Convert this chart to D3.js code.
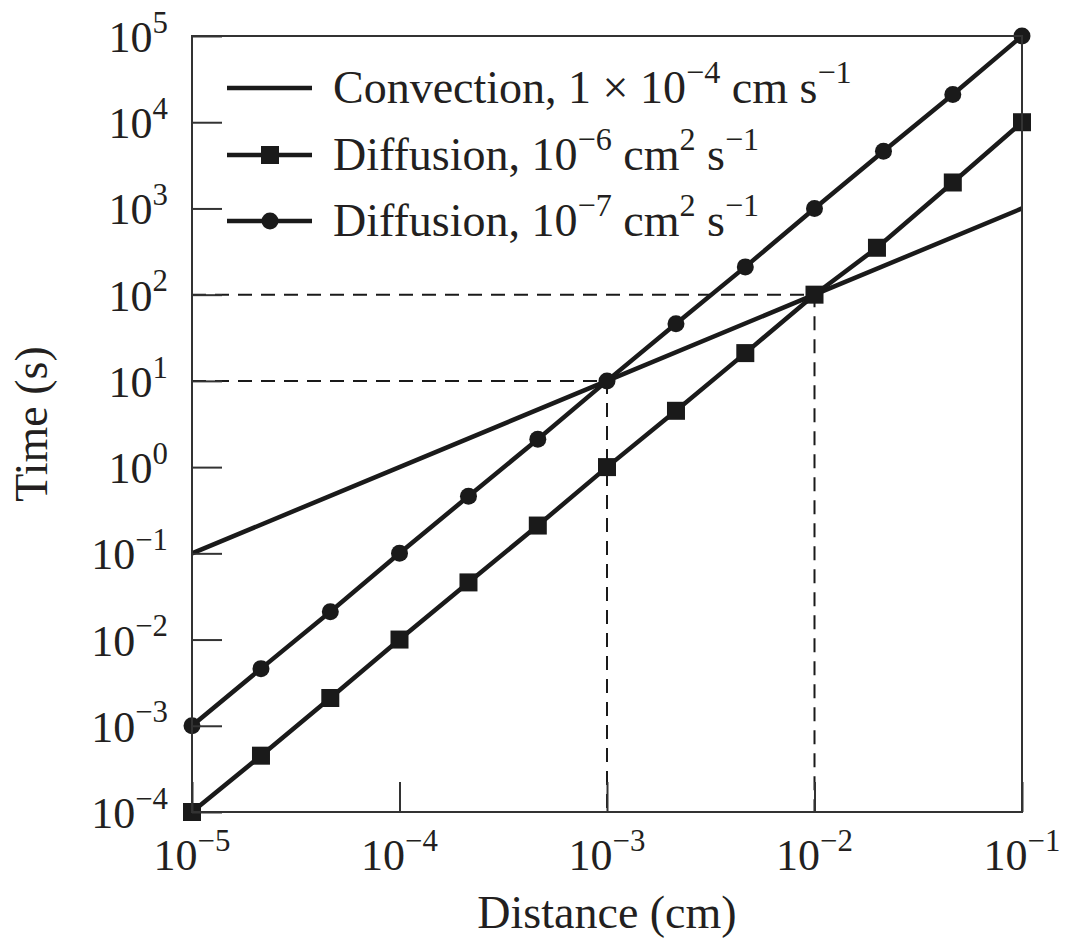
<!DOCTYPE html>
<html>
<head>
<meta charset="utf-8">
<title>Convection vs diffusion time</title>
<script src="https://d3js.org/d3.v7.min.js"></script>
<style>
  body { margin: 0; background: #fff; }
  svg text { font-family: "Liberation Serif", "Times New Roman", serif; fill: #231f20; }
</style>
</head>
<body>
<svg width="1069" height="942"></svg>
<script>

// ----- data -------------------------------------------------------------
var xTicks = [1e-5, 1e-4, 1e-3, 1e-2, 1e-1];
var xTickExp = ["\u22125", "\u22124", "\u22123", "\u22122", "\u22121"];
var yTicks = [1e-4, 1e-3, 1e-2, 1e-1, 1e0, 1e1, 1e2, 1e3, 1e4, 1e5];
var yTickExp = ["\u22124", "\u22123", "\u22122", "\u22121", "0", "1", "2", "3", "4", "5"];

// convection, 1e-4 cm/s
var convX = [1e-5, 1e-4, 1e-3, 1e-2, 1e-1];
var convT = [0.1, 1, 10, 100, 1000];

// diffusion, 1e-6 cm2/s (squares)
var sqX = [1e-5, 2.15e-5, 4.64e-5, 1e-4, 2.15e-4, 4.64e-4, 1e-3, 2.15e-3, 4.64e-3, 1e-2, 2.0e-2, 4.64e-2, 1e-1];
var sqT = [1e-4, 4.5e-4, 2.1e-3, 1e-2, 4.6e-2, 0.21, 1.0, 4.5, 21, 100, 350, 2000, 1e4];

// diffusion, 1e-7 cm2/s (circles)
var ciX = [1e-5, 2.15e-5, 4.64e-5, 1e-4, 2.15e-4, 4.64e-4, 1e-3, 2.15e-3, 4.64e-3, 1e-2, 2.15e-2, 4.64e-2, 1e-1];
var ciT = [1e-3, 4.6e-3, 2.1e-2, 0.1, 0.46, 2.1, 10, 46, 210, 1000, 4600, 21000, 1e5];

// dashed guide lines: [x, t] crossing points
var guides = [[1e-3, 10], [1e-2, 100]];

// ----- setup -------------------------------------------------------------
var svg = d3.select("svg");
var ink = "#1a1a1a";

var x = d3.scaleLog().domain([1e-5, 1e-1]).range([192, 1022]),
    y = d3.scaleLog().domain([1e-4, 1e5]).range([812, 36]);

// writes "10" plus a superscript (or any run of normal/sup parts)
function rich(sel, parts, fs) {
  var sup = fs * 0.7, rise = fs * 0.44, up = false;
  parts.forEach(function(p) {
    var t = sel.append("tspan").text(p[0]);
    if (p[1] && !up) { t.attr("font-size", sup).attr("dy", -rise); up = true; }
    else if (p[1]) { t.attr("font-size", sup); }
    else if (up) { t.attr("dy", rise); up = false; }
  });
}

// ----- dashed guides -----------------------------------------------------
guides.forEach(function(g) {
  svg.append("path")
      .attr("d", "M" + x(1e-5) + "," + y(g[1]) + "H" + x(g[0]) + "V" + y(1e-4))
      .attr("fill", "none")
      .attr("stroke", ink)
      .attr("stroke-width", 2)
      .attr("stroke-dasharray", "14,9");
});

// ----- series ------------------------------------------------------------
var line = d3.line()
    .x(function(d) { return x(d[0]); })
    .y(function(d) { return y(d[1]); });

function pairs(xs, ts) { return xs.map(function(v, i) { return [v, ts[i]]; }); }

[pairs(convX, convT), pairs(sqX, sqT), pairs(ciX, ciT)].forEach(function(pts) {
  svg.append("path")
      .attr("d", line(pts))
      .attr("fill", "none")
      .attr("stroke", ink)
      .attr("stroke-width", 4.5);
});

svg.selectAll(".sq")
    .data(pairs(sqX, sqT))
  .enter().append("rect")
    .attr("class", "sq")
    .attr("x", function(d) { return x(d[0]) - 9; })
    .attr("y", function(d) { return y(d[1]) - 9; })
    .attr("width", 18)
    .attr("height", 18)
    .attr("fill", ink);

svg.selectAll(".ci")
    .data(pairs(ciX, ciT))
  .enter().append("circle")
    .attr("class", "ci")
    .attr("cx", function(d) { return x(d[0]); })
    .attr("cy", function(d) { return y(d[1]); })
    .attr("r", 8.5)
    .attr("fill", ink);

// ----- frame + inward ticks ---------------------------------------------
svg.append("rect")
    .attr("x", 192).attr("y", 36)
    .attr("width", 1022 - 192).attr("height", 812 - 36)
    .attr("fill", "none")
    .attr("stroke", "#333")
    .attr("stroke-width", 2);

var gx = svg.append("g")
    .attr("transform", "translate(0,812)")
    .call(d3.axisBottom(x).tickValues(xTicks).tickSizeInner(-30).tickSizeOuter(0).tickFormat(""));
var gy = svg.append("g")
    .attr("transform", "translate(192,0)")
    .call(d3.axisLeft(y).tickValues(yTicks).tickSizeInner(-30).tickSizeOuter(0).tickFormat(""));
[gx, gy].forEach(function(g) {
  g.select(".domain").remove();
  g.selectAll("line").attr("stroke", "#333").attr("stroke-width", 2);
});

// ----- tick labels -------------------------------------------------------
svg.selectAll(".xl")
    .data(xTicks)
  .enter().append("text")
    .attr("class", "xl")
    .attr("x", function(d) { return x(d); })
    .attr("y", 870)
    .attr("font-size", 44)
    .attr("text-anchor", "middle")
    .each(function(d, i) { rich(d3.select(this), [["10"], [xTickExp[i], 1]], 44); });

svg.selectAll(".yl")
    .data(yTicks)
  .enter().append("text")
    .attr("class", "yl")
    .attr("x", 168)
    .attr("y", function(d) { return y(d) + 16; })
    .attr("font-size", 44)
    .attr("text-anchor", "end")
    .each(function(d, i) { rich(d3.select(this), [["10"], [yTickExp[i], 1]], 44); });

// ----- axis titles -------------------------------------------------------
svg.append("text")
    .attr("x", 607).attr("y", 928)
    .attr("font-size", 46)
    .attr("text-anchor", "middle")
    .text("Distance (cm)");

svg.append("text")
    .attr("transform", "translate(47,424) rotate(-90)")
    .attr("font-size", 46)
    .attr("text-anchor", "middle")
    .text("Time (s)");

// ----- legend ------------------------------------------------------------
var legend = [
  { y: 88, mark: "none", parts: [["Convection, 1 \u00d7 10"], ["\u22124", 1], [" cm s"], ["\u22121", 1]] },
  { y: 155, mark: "sq", parts: [["Diffusion, 10"], ["\u22126", 1], [" cm"], ["2", 1], [" s"], ["\u22121", 1]] },
  { y: 221, mark: "ci", parts: [["Diffusion, 10"], ["\u22127", 1], [" cm"], ["2", 1], [" s"], ["\u22121", 1]] }
];

legend.forEach(function(l) {
  svg.append("line")
      .attr("x1", 227).attr("x2", 312)
      .attr("y1", l.y).attr("y2", l.y)
      .attr("stroke", ink)
      .attr("stroke-width", 4.5);
  if (l.mark == "sq") {
    svg.append("rect").attr("x", 261).attr("y", l.y - 9).attr("width", 18).attr("height", 18).attr("fill", ink);
  } else if (l.mark == "ci") {
    svg.append("circle").attr("cx", 270).attr("cy", l.y).attr("r", 8.5).attr("fill", ink);
  }
  var t = svg.append("text")
      .attr("x", 333).attr("y", l.y + 15)
      .attr("font-size", 46);
  rich(t, l.parts, 46);
});

</script>
</body>
</html>
